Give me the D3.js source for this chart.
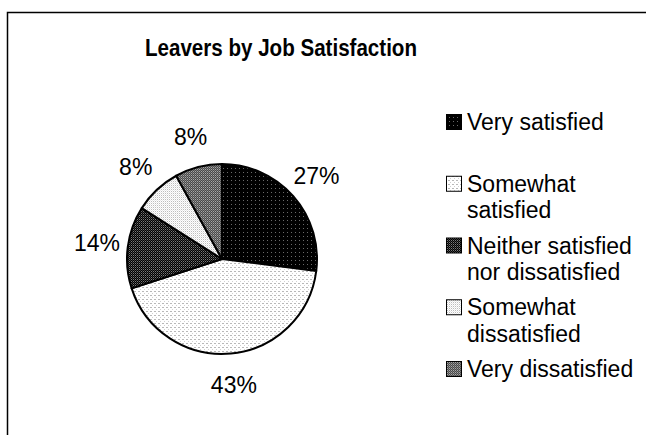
<!DOCTYPE html>
<html>
<head>
<meta charset="utf-8">
<script src="https://cdn.jsdelivr.net/npm/d3@7"></script>
<style>
  html, body { margin: 0; padding: 0; background: #fff; overflow: hidden; }
  svg { display: block; font-family: "Liberation Sans", Arial, sans-serif; }
</style>
</head>
<body>
<svg id="chart" width="646" height="435"></svg>
<script>
const title = "Leavers by Job Satisfaction";
const categories = ["Very satisfied", "Somewhat satisfied", "Neither satisfied nor dissatisfied", "Somewhat dissatisfied", "Very dissatisfied"];
const legendLines = [["Very satisfied"], ["Somewhat", "satisfied"], ["Neither satisfied", "nor dissatisfied"], ["Somewhat", "dissatisfied"], ["Very dissatisfied"]];
const values = [27, 43, 14, 8, 8];
const labels = ["27%", "43%", "14%", "8%", "8%"];

const svg = d3.select("#chart");
const defs = svg.append("defs");

// Pattern fills mimicking the monochrome hatching
const patternSpecs = [
  { id: "p0", size: 4, bg: "#000", dots: [[1, 1, 1, 1, "#6a6a6a"]] },
  { id: "p1", size: 4, bg: "#fff", dots: [[0, 0, 2, 1, "#b8b8b8"], [2, 2, 1, 1, "#d0d0d0"]] },
  { id: "p2", size: 2, bg: "#000", dots: [[1, 0, 1, 1, "#7a7a7a"], [0, 1, 1, 1, "#3a3a3a"]] },
  { id: "p3", size: 2, bg: "#fff", dots: [[1, 0, 1, 1, "#bdbdbd"], [0, 1, 1, 1, "#e8e8e8"]] },
  { id: "p4", size: 2, bg: "#4a4a4a", dots: [[1, 0, 1, 1, "#a8a8a8"], [0, 1, 1, 1, "#7a7a7a"]] }
];
patternSpecs.forEach(p => {
  const pat = defs.append("pattern").attr("id", p.id)
    .attr("patternUnits", "userSpaceOnUse")
    .attr("width", p.size).attr("height", p.size);
  pat.append("rect").attr("width", p.size).attr("height", p.size).attr("fill", p.bg);
  p.dots.forEach(d => pat.append("rect").attr("x", d[0]).attr("y", d[1])
    .attr("width", d[2]).attr("height", d[3]).attr("fill", d[4]));
});
const fill = d3.scaleOrdinal().domain(categories).range(patternSpecs.map(p => `url(#${p.id})`));

// Chart frame
svg.append("rect").attr("x", 7.5).attr("y", 12.5).attr("width", 700).attr("height", 500)
  .attr("fill", "none").attr("stroke", "#000").attr("stroke-width", 1.5);

// Title
svg.append("text").attr("x", 281).attr("y", 56).attr("text-anchor", "middle")
  .attr("font-size", 23).attr("font-weight", "bold")
  .attr("textLength", 272).attr("lengthAdjust", "spacingAndGlyphs")
  .text(title);

// Pie
const cx = 222, cy = 259, r = 95, labelR = 126;
const pie = d3.pie().sort(null).value(d => d.v);
const arcs = pie(categories.map((c, i) => ({ c, v: values[i], label: labels[i] })));
const arc = d3.arc().innerRadius(0).outerRadius(r);
const labelArc = d3.arc().innerRadius(labelR).outerRadius(labelR);

const g = svg.append("g").attr("transform", `translate(${cx},${cy})`);
g.selectAll("path").data(arcs).join("path")
  .attr("d", arc)
  .attr("fill", d => fill(d.data.c))
  .attr("stroke", "#000").attr("stroke-width", 2).attr("stroke-linejoin", "round");

g.selectAll("text").data(arcs).join("text")
  .attr("transform", d => `translate(${labelArc.centroid(d)})`)
  .attr("text-anchor", "middle").attr("dy", "0.36em")
  .attr("font-size", 23)
  .text(d => d.data.label);

// Legend
const legendY = d3.scaleLinear().domain([0, categories.length - 1]).range([130, 377]);
const lg = svg.append("g");
categories.forEach((c, i) => {
  const y = legendY(i);
  lg.append("rect").attr("x", 446.5).attr("y", y - 15.5).attr("width", 15).attr("height", 15)
    .attr("fill", fill(c)).attr("stroke", "#000").attr("stroke-width", 1);
  const t = lg.append("text").attr("x", 467).attr("y", y).attr("font-size", 23);
  legendLines[i].forEach((line, j) => {
    t.append("tspan").attr("x", 467).attr("y", y + j * 26.5).text(line);
  });
});
</script>
</body>
</html>
